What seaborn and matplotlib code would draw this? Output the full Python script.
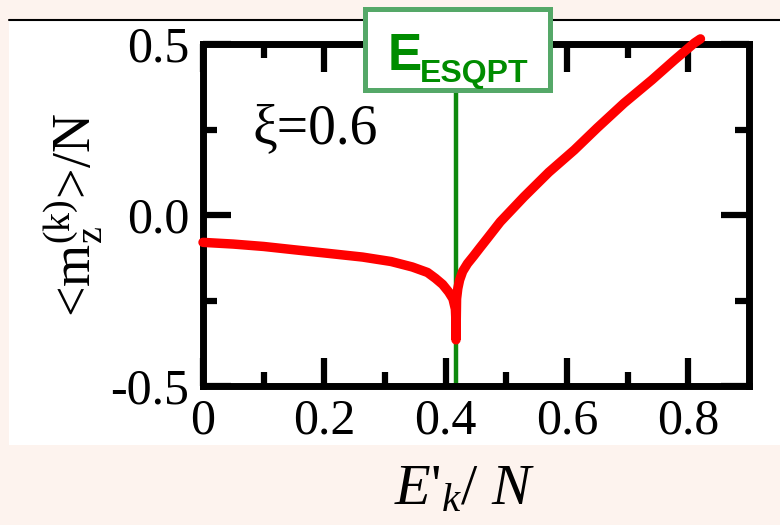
import matplotlib
matplotlib.use("Agg")
import matplotlib.pyplot as plt
from matplotlib.patches import Rectangle
from matplotlib.lines import Line2D
from matplotlib.ticker import FixedLocator, FixedFormatter
import seaborn as sns
import pandas as pd

# Expectation value <m_z^(k)>/N versus scaled excitation energy E'_k/N (xi = 0.6)
energy = [0.000, 0.050, 0.100, 0.152, 0.200, 0.263, 0.310, 0.345, 0.370, 0.383,
          0.395, 0.405, 0.412, 0.416, 0.417, 0.417, 0.417, 0.418, 0.420, 0.423,
          0.428, 0.436, 0.446, 0.456, 0.468, 0.490, 0.529, 0.570, 0.612, 0.650,
          0.694, 0.740, 0.777, 0.810, 0.820]
mz = [-0.080, -0.085, -0.092, -0.102, -0.111, -0.123, -0.136, -0.152, -0.168, -0.185,
      -0.203, -0.225, -0.245, -0.275, -0.315, -0.350, -0.365, -0.245, -0.215, -0.190,
      -0.165, -0.142, -0.120, -0.097, -0.070, -0.020, 0.053, 0.125, 0.190, 0.255,
      0.327, 0.395, 0.453, 0.503, 0.515]
E_ESQPT = 0.417
xi_label = "ξ=0.6"

x_major = [0.0, 0.2, 0.4, 0.6, 0.8]
x_major_labels = ["0", "0.2", "0.4", "0.6", "0.8"]
x_minor = [0.1, 0.3, 0.5, 0.7]
y_major = [-0.5, 0.0, 0.5]
y_major_labels = ["-0.5", "0.0", "0.5"]
y_minor = [-0.25, 0.25]

df = pd.DataFrame({"E": energy, "mz": mz})

sns.set_theme(style="ticks")
plt.rcParams["font.family"] = ["Liberation Serif", "DejaVu Serif"]
plt.rcParams["text.color"] = "black"
plt.rcParams["axes.labelcolor"] = "black"
plt.rcParams["xtick.color"] = "black"
plt.rcParams["ytick.color"] = "black"
plt.rcParams["mathtext.fontset"] = "custom"
plt.rcParams["mathtext.rm"] = "Liberation Serif"
plt.rcParams["mathtext.it"] = "Liberation Serif:italic"
plt.rcParams["mathtext.bf"] = "Liberation Serif:bold"

W, H = 780, 525
fig = plt.figure(figsize=(W / 100, H / 100), dpi=100, facecolor="#FDF3EE")

# white panel with a thin rule on top
fig.add_artist(Rectangle((9 / W, 80 / H), 771 / W, 425 / H, transform=fig.transFigure,
                         facecolor="white", edgecolor="none", zorder=-10))
fig.add_artist(Line2D([9 / W, 1], [505 / H, 505 / H], transform=fig.transFigure,
                      color="black", lw=1.5, zorder=-9))

ax = fig.add_axes([203 / W, 139 / H, 546 / W, 342 / H])
ax.set_facecolor("white")

ax.axvline(E_ESQPT, color="#0E8A0E", lw=3.2, zorder=3)

sns.lineplot(data=df, x="E", y="mz", ax=ax, sort=False, estimator=None,
             color="#FF0000", linewidth=6.8, clip_on=False, zorder=6,
             solid_capstyle="round", solid_joinstyle="round")

ax.set_xlim(0, 0.9)
ax.set_ylim(-0.5, 0.5)

ax.xaxis.set_major_locator(FixedLocator(x_major))
ax.xaxis.set_major_formatter(FixedFormatter(x_major_labels))
ax.xaxis.set_minor_locator(FixedLocator(x_minor))
ax.yaxis.set_major_locator(FixedLocator(y_major))
ax.yaxis.set_major_formatter(FixedFormatter(y_major_labels))
ax.yaxis.set_minor_locator(FixedLocator(y_minor))

for s in ax.spines.values():
    s.set_linewidth(5)
    s.set_color("black")
    s.set_zorder(4)

ax.tick_params(which="both", direction="in", top=True, right=True,
               color="black", labelcolor="black", width=4.5)
ax.tick_params(which="major", length=20)
ax.tick_params(which="minor", length=10)
ax.tick_params(axis="x", which="major", labelsize=36, pad=9)
ax.tick_params(axis="y", which="major", labelsize=36, pad=10)

ax.set_xlabel("$E$'$_{k}$/ $N$", fontsize=42, color="black")
ax.xaxis.set_label_coords(0.48, -0.23)
ax.set_ylabel(r"<m$_{\mathrm{z}}^{\mathrm{(k)}}$>/N", fontsize=39, color="black")
ax.yaxis.set_label_coords(-0.18, 0.5)

ax.text(0.081, 0.2105, xi_label, fontsize=40, va="baseline", ha="left", color="black")

# label box for the ESQPT energy
fig.add_artist(Rectangle((365 / W, 1 - 90 / H), 185 / W, 81 / H, transform=fig.transFigure,
                         facecolor="white", edgecolor="#55A868", lw=3.6, zorder=10))
fig.text(388 / W, 1 - 70 / H, "E", fontsize=37, fontweight="bold",
         family="Liberation Sans", color="#008C00", va="baseline", zorder=11)
fig.text(420 / W, 1 - 82 / H, "ESQPT", fontsize=23, fontweight="bold",
         family="Liberation Sans", color="#008C00", va="baseline", zorder=11)

fig.savefig("out.png", dpi=100, facecolor=fig.get_facecolor())
